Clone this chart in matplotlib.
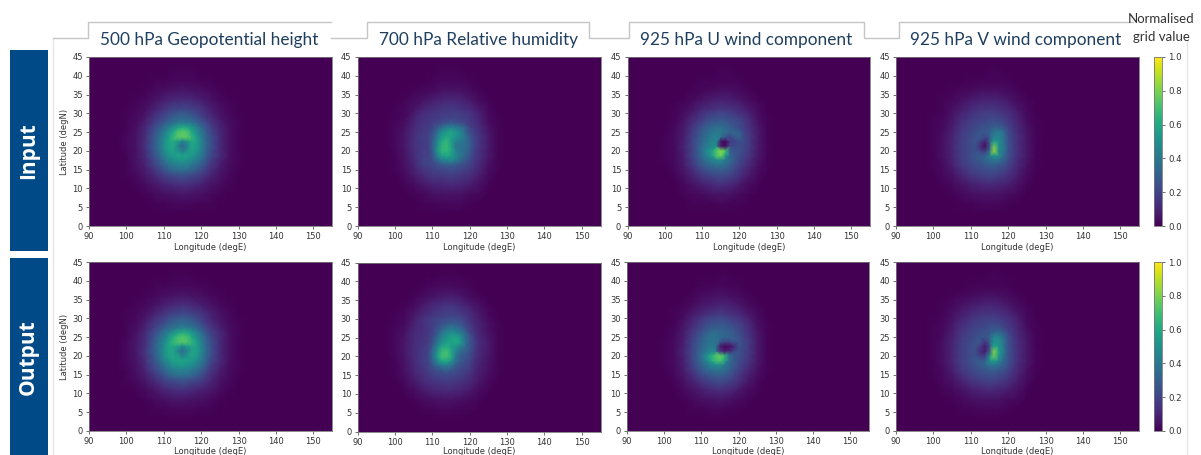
#!/usr/bin/env python3
# -*- coding: utf-8 -*-
import numpy as np
import matplotlib
matplotlib.use("Agg")
import matplotlib.pyplot as plt
from matplotlib.lines import Line2D
from matplotlib.patches import Rectangle

# coarse grid nodes, everything outside is 0
lons = [100, 102.5, 105, 107.5, 110, 112.5, 115, 117.5, 120, 122.5, 125, 127.5, 130]
lats = [41, 38.5, 36, 33.5, 31, 28.5, 26, 23.5, 21, 18.5, 16, 13.5, 11, 8.5, 6]
# finer nodes around the storm centre
core_lons = [107.5, 108.75, 110, 111.25, 112.5, 113.75, 115, 116.25, 117.5, 118.75, 120, 121.25, 122.5]
core_lats = [30, 28.75, 27.5, 26.25, 25, 23.75, 22.5, 21.25, 20, 18.75, 17.5, 16.25, 15]

titles = ["500 hPa Geopotential height", "700 hPa Relative humidity",
          "925 hPa U wind component", "925 hPa V wind component"]
row_names = ["Input", "Output"]
x_ticks = [90, 100, 110, 120, 130, 140, 150]
y_ticks = [0, 5, 10, 15, 20, 25, 30, 35, 40, 45]
cbar_ticks = [0.0, 0.2, 0.4, 0.6, 0.8, 1.0]

gph_in = [
    [.00, .00, .00, .00, .00, .01, .01, .01, .00, .00, .00, .00, .00],
    [.00, .00, .00, .01, .01, .02, .02, .02, .01, .01, .00, .00, .00],
    [.00, .00, .01, .02, .04, .05, .06, .05, .04, .02, .01, .00, .00],
    [.00, .01, .02, .05, .08, .11, .12, .11, .08, .05, .02, .01, .00],
    [.01, .02, .04, .09, .15, .20, .22, .20, .15, .09, .04, .02, .00],
    [.01, .03, .07, .15, .25, .34, .38, .34, .25, .15, .07, .03, .01],
    [.01, .04, .11, .22, .37, .54, .60, .54, .37, .22, .10, .04, .01],
    [.02, .05, .13, .27, .47, .70, .75, .68, .45, .26, .12, .04, .01],
    [.02, .05, .14, .28, .48, .55, .36, .55, .46, .26, .12, .04, .01],
    [.01, .05, .12, .25, .42, .52, .55, .50, .40, .24, .11, .04, .01],
    [.01, .04, .09, .18, .29, .37, .40, .36, .28, .17, .08, .03, .01],
    [.01, .02, .06, .11, .18, .23, .25, .22, .17, .10, .05, .02, .00],
    [.00, .01, .03, .06, .09, .12, .13, .12, .09, .05, .03, .01, .00],
    [.00, .00, .01, .03, .04, .05, .06, .05, .04, .02, .01, .00, .00],
    [.00, .00, .00, .01, .01, .02, .02, .02, .01, .01, .00, .00, .00],
]
gph_out = [
    [.00, .00, .00, .00, .00, .01, .01, .01, .00, .00, .00, .00, .00],
    [.00, .00, .00, .01, .01, .02, .02, .02, .01, .01, .00, .00, .00],
    [.00, .00, .01, .02, .04, .05, .06, .05, .04, .02, .01, .00, .00],
    [.00, .01, .02, .05, .08, .11, .13, .11, .08, .05, .02, .01, .00],
    [.01, .02, .05, .10, .16, .21, .23, .21, .16, .10, .05, .02, .00],
    [.01, .03, .08, .16, .26, .35, .39, .35, .26, .16, .07, .03, .01],
    [.01, .05, .12, .23, .38, .54, .60, .54, .38, .23, .11, .04, .01],
    [.02, .06, .14, .28, .47, .68, .72, .66, .46, .27, .12, .04, .01],
    [.02, .06, .15, .29, .49, .56, .38, .55, .47, .27, .12, .04, .01],
    [.02, .05, .13, .26, .43, .53, .56, .52, .41, .25, .11, .04, .01],
    [.01, .04, .10, .19, .30, .38, .41, .37, .29, .18, .08, .03, .01],
    [.01, .02, .06, .12, .19, .24, .26, .23, .18, .11, .05, .02, .00],
    [.00, .01, .03, .06, .10, .13, .14, .12, .09, .06, .03, .01, .00],
    [.00, .00, .01, .03, .04, .06, .06, .05, .04, .02, .01, .00, .00],
    [.00, .00, .00, .01, .01, .02, .02, .02, .01, .01, .00, .00, .00],
]
rh_in = [
    [.00, .00, .00, .00, .00, .01, .01, .01, .00, .00, .00, .00, .00],
    [.00, .00, .00, .00, .01, .02, .02, .02, .01, .00, .00, .00, .00],
    [.00, .00, .01, .02, .03, .05, .05, .05, .03, .01, .00, .00, .00],
    [.00, .01, .03, .05, .08, .10, .11, .10, .07, .03, .01, .00, .00],
    [.01, .02, .05, .10, .13, .16, .17, .15, .12, .07, .02, .00, .00],
    [.01, .03, .09, .14, .17, .21, .24, .22, .18, .11, .03, .01, .00],
    [.02, .05, .11, .17, .22, .36, .45, .42, .28, .14, .05, .01, .00],
    [.02, .06, .13, .18, .30, .52, .58, .48, .42, .20, .07, .01, .00],
    [.02, .06, .13, .16, .34, .62, .58, .30, .34, .20, .07, .01, .00],
    [.01, .05, .12, .20, .30, .50, .50, .38, .30, .17, .06, .01, .00],
    [.01, .04, .10, .17, .22, .26, .28, .24, .20, .12, .04, .01, .00],
    [.00, .02, .07, .12, .16, .17, .18, .16, .13, .08, .03, .00, .00],
    [.00, .01, .03, .06, .09, .10, .11, .10, .08, .04, .01, .00, .00],
    [.00, .00, .01, .02, .04, .05, .05, .05, .03, .02, .00, .00, .00],
    [.00, .00, .00, .01, .01, .02, .02, .02, .01, .00, .00, .00, .00],
]
rh_out = [
    [.00, .00, .00, .00, .00, .01, .01, .01, .00, .00, .00, .00, .00],
    [.00, .00, .00, .01, .02, .03, .03, .02, .01, .00, .00, .00, .00],
    [.00, .00, .01, .03, .05, .07, .08, .06, .03, .01, .00, .00, .00],
    [.00, .01, .03, .07, .11, .14, .15, .12, .08, .04, .01, .00, .00],
    [.01, .02, .06, .11, .15, .18, .20, .18, .13, .07, .02, .00, .00],
    [.01, .03, .09, .14, .18, .25, .30, .27, .20, .11, .04, .01, .00],
    [.02, .05, .11, .16, .24, .42, .48, .44, .30, .16, .05, .01, .00],
    [.02, .06, .12, .17, .30, .52, .56, .58, .36, .20, .07, .01, .00],
    [.02, .06, .12, .18, .38, .66, .52, .36, .28, .18, .06, .01, .00],
    [.01, .05, .11, .18, .32, .52, .46, .30, .22, .14, .05, .01, .00],
    [.01, .04, .10, .15, .20, .26, .26, .20, .16, .10, .04, .01, .00],
    [.00, .02, .07, .12, .15, .17, .17, .15, .11, .06, .02, .00, .00],
    [.00, .01, .03, .07, .10, .11, .11, .10, .07, .03, .01, .00, .00],
    [.00, .00, .01, .03, .04, .05, .05, .04, .03, .01, .00, .00, .00],
    [.00, .00, .00, .01, .01, .02, .02, .01, .01, .00, .00, .00, .00],
]
u_in = [
    [.00, .00, .00, .00, .00, .00, .01, .01, .00, .00, .00, .00, .00],
    [.00, .00, .00, .00, .01, .01, .01, .01, .01, .00, .00, .00, .00],
    [.00, .00, .00, .01, .02, .03, .04, .04, .03, .01, .00, .00, .00],
    [.00, .00, .01, .03, .05, .08, .09, .08, .06, .03, .01, .00, .00],
    [.00, .01, .03, .06, .11, .14, .16, .15, .12, .07, .03, .00, .00],
    [.00, .01, .05, .11, .18, .22, .25, .23, .18, .11, .04, .01, .00],
    [.00, .02, .07, .15, .25, .32, .33, .28, .23, .15, .06, .01, .00],
    [.01, .03, .08, .19, .31, .38, .10, .03, .25, .19, .07, .01, .00],
    [.01, .03, .09, .20, .36, .52, .30, .12, .28, .17, .07, .01, .00],
    [.01, .03, .08, .20, .37, .55, .72, .40, .30, .16, .06, .01, .00],
    [.00, .02, .07, .15, .26, .36, .38, .32, .22, .11, .04, .01, .00],
    [.00, .01, .04, .10, .16, .21, .23, .20, .14, .07, .02, .00, .00],
    [.00, .00, .02, .05, .08, .11, .13, .11, .07, .03, .01, .00, .00],
    [.00, .00, .01, .02, .03, .05, .05, .05, .03, .01, .00, .00, .00],
    [.00, .00, .00, .01, .01, .01, .02, .01, .01, .00, .00, .00, .00],
]
u_out = [
    [.00, .00, .00, .00, .00, .00, .01, .01, .00, .00, .00, .00, .00],
    [.00, .00, .00, .00, .01, .01, .02, .01, .01, .00, .00, .00, .00],
    [.00, .00, .00, .01, .03, .04, .05, .04, .03, .01, .00, .00, .00],
    [.00, .00, .01, .03, .06, .08, .10, .09, .06, .03, .01, .00, .00],
    [.00, .01, .03, .07, .11, .15, .17, .15, .12, .07, .03, .00, .00],
    [.00, .01, .05, .11, .17, .22, .24, .22, .17, .11, .04, .01, .00],
    [.00, .02, .07, .15, .24, .31, .30, .27, .22, .14, .06, .01, .00],
    [.01, .03, .08, .18, .30, .34, .12, .04, .22, .17, .07, .01, .00],
    [.01, .03, .09, .20, .35, .50, .34, .18, .27, .17, .07, .01, .00],
    [.01, .03, .08, .20, .37, .58, .70, .42, .28, .15, .06, .01, .00],
    [.00, .02, .07, .15, .27, .36, .38, .31, .21, .11, .04, .01, .00],
    [.00, .01, .04, .10, .16, .22, .24, .20, .14, .07, .02, .00, .00],
    [.00, .00, .02, .05, .08, .12, .13, .11, .07, .03, .01, .00, .00],
    [.00, .00, .01, .02, .04, .05, .06, .05, .03, .01, .00, .00, .00],
    [.00, .00, .00, .01, .01, .02, .02, .01, .01, .00, .00, .00, .00],
]
v_in = [
    [.00, .00, .00, .00, .00, .00, .01, .01, .00, .00, .00, .00, .00],
    [.00, .00, .00, .00, .01, .01, .01, .01, .01, .00, .00, .00, .00],
    [.00, .00, .01, .02, .03, .04, .04, .04, .03, .01, .00, .00, .00],
    [.00, .01, .02, .04, .07, .09, .10, .09, .06, .03, .01, .00, .00],
    [.00, .01, .04, .08, .12, .15, .16, .15, .11, .06, .02, .00, .00],
    [.01, .02, .06, .12, .17, .20, .22, .21, .17, .09, .03, .01, .00],
    [.01, .03, .08, .15, .21, .25, .30, .33, .24, .12, .05, .01, .00],
    [.01, .04, .10, .17, .23, .18, .30, .45, .36, .16, .06, .01, .00],
    [.01, .04, .10, .17, .24, .04, .38, .80, .42, .17, .06, .01, .00],
    [.01, .04, .10, .17, .25, .28, .38, .50, .34, .16, .06, .01, .00],
    [.01, .03, .08, .15, .21, .26, .30, .30, .23, .12, .04, .01, .00],
    [.00, .02, .05, .10, .15, .18, .20, .18, .14, .08, .03, .00, .00],
    [.00, .01, .02, .05, .08, .10, .11, .10, .08, .04, .01, .00, .00],
    [.00, .00, .01, .02, .04, .05, .05, .05, .03, .02, .00, .00, .00],
    [.00, .00, .00, .01, .01, .02, .02, .02, .01, .00, .00, .00, .00],
]
v_out = [
    [.00, .00, .00, .00, .00, .00, .01, .01, .00, .00, .00, .00, .00],
    [.00, .00, .00, .00, .01, .01, .01, .01, .01, .00, .00, .00, .00],
    [.00, .00, .01, .02, .03, .04, .05, .04, .03, .01, .00, .00, .00],
    [.00, .01, .02, .05, .07, .09, .10, .09, .06, .03, .01, .00, .00],
    [.00, .01, .04, .08, .12, .15, .16, .15, .11, .06, .02, .00, .00],
    [.01, .02, .06, .12, .17, .20, .22, .21, .16, .09, .03, .01, .00],
    [.01, .03, .08, .15, .21, .25, .30, .38, .24, .12, .05, .01, .00],
    [.01, .04, .10, .17, .23, .15, .30, .52, .34, .16, .06, .01, .00],
    [.01, .04, .10, .17, .24, .05, .42, .78, .40, .17, .06, .01, .00],
    [.01, .04, .10, .17, .25, .27, .42, .56, .33, .16, .06, .01, .00],
    [.01, .03, .08, .15, .21, .26, .30, .30, .23, .12, .04, .01, .00],
    [.00, .02, .05, .10, .15, .18, .20, .18, .14, .08, .03, .00, .00],
    [.00, .01, .02, .05, .08, .10, .11, .10, .08, .04, .01, .00, .00],
    [.00, .00, .01, .02, .04, .05, .05, .05, .03, .02, .00, .00, .00],
    [.00, .00, .00, .01, .01, .02, .02, .02, .01, .00, .00, .00, .00],
]

gph_in_core = [
    [.12, .15, .18, .22, .24, .27, .28, .27, .24, .21, .17, .13, .10],
    [.15, .18, .22, .26, .30, .32, .33, .32, .30, .26, .21, .17, .13],
    [.18, .23, .28, .33, .37, .40, .42, .40, .37, .33, .27, .21, .16],
    [.22, .28, .35, .42, .50, .58, .62, .60, .52, .43, .34, .26, .19],
    [.25, .32, .41, .50, .60, .72, .74, .72, .60, .50, .39, .30, .22],
    [.27, .35, .45, .55, .66, .73, .75, .74, .65, .54, .43, .32, .24],
    [.28, .37, .47, .57, .62, .55, .42, .52, .60, .56, .45, .33, .25],
    [.28, .37, .48, .57, .60, .46, .34, .44, .59, .55, .45, .33, .25],
    [.27, .36, .46, .55, .59, .52, .42, .50, .58, .53, .43, .32, .24],
    [.25, .33, .42, .50, .55, .57, .57, .56, .53, .48, .40, .30, .22],
    [.22, .29, .37, .44, .49, .52, .52, .51, .47, .42, .35, .26, .19],
    [.19, .25, .31, .37, .41, .44, .44, .43, .39, .35, .29, .22, .16],
    [.15, .20, .25, .30, .34, .36, .36, .35, .32, .28, .23, .18, .13],
]
gph_out_core = [
    [.13, .16, .19, .23, .25, .28, .29, .28, .25, .22, .18, .14, .10],
    [.16, .19, .23, .27, .31, .33, .34, .33, .31, .27, .22, .17, .13],
    [.19, .24, .29, .34, .38, .41, .43, .41, .38, .33, .28, .21, .16],
    [.23, .29, .36, .43, .51, .58, .62, .60, .52, .44, .35, .26, .19],
    [.26, .33, .42, .51, .61, .70, .72, .70, .60, .50, .40, .30, .22],
    [.28, .36, .46, .56, .66, .71, .73, .72, .65, .55, .44, .33, .24],
    [.29, .38, .48, .58, .60, .56, .46, .54, .59, .56, .46, .34, .25],
    [.29, .38, .49, .58, .58, .46, .36, .44, .58, .56, .46, .34, .25],
    [.28, .37, .47, .56, .60, .54, .44, .52, .58, .54, .44, .33, .24],
    [.26, .34, .43, .51, .56, .58, .58, .57, .54, .49, .41, .31, .22],
    [.23, .30, .38, .45, .50, .53, .54, .52, .48, .43, .36, .27, .19],
    [.20, .26, .32, .38, .42, .45, .45, .44, .40, .36, .30, .23, .16],
    [.16, .21, .26, .31, .35, .37, .37, .36, .33, .29, .24, .18, .13],
]
rh_in_core = [
    [.13, .14, .15, .16, .17, .17, .18, .18, .17, .16, .15, .12, .09],
    [.14, .15, .16, .17, .19, .20, .20, .20, .19, .18, .16, .13, .10],
    [.15, .16, .18, .20, .23, .25, .27, .26, .23, .20, .17, .14, .11],
    [.16, .17, .21, .28, .36, .42, .45, .42, .38, .30, .20, .16, .12],
    [.17, .18, .24, .35, .48, .55, .58, .52, .46, .34, .24, .18, .14],
    [.18, .18, .26, .40, .54, .60, .58, .52, .46, .38, .28, .20, .15],
    [.18, .19, .28, .44, .60, .66, .56, .46, .40, .36, .30, .20, .15],
    [.17, .18, .30, .48, .64, .68, .58, .40, .38, .36, .30, .20, .15],
    [.18, .18, .28, .48, .64, .66, .58, .44, .38, .34, .28, .19, .14],
    [.18, .18, .26, .42, .56, .60, .56, .48, .40, .34, .25, .18, .14],
    [.19, .20, .24, .32, .42, .46, .48, .42, .33, .28, .22, .17, .13],
    [.18, .19, .21, .24, .27, .29, .30, .28, .25, .22, .19, .15, .11],
    [.15, .16, .18, .20, .21, .22, .23, .22, .20, .18, .16, .13, .10],
]
rh_out_core = [
    [.14, .16, .18, .20, .21, .22, .24, .23, .21, .18, .14, .10, .08],
    [.14, .16, .18, .21, .24, .27, .30, .29, .26, .21, .16, .12, .09],
    [.14, .16, .19, .24, .30, .36, .40, .38, .33, .26, .19, .13, .09],
    [.14, .16, .20, .28, .38, .46, .50, .48, .42, .32, .22, .15, .10],
    [.15, .16, .22, .33, .44, .52, .56, .58, .52, .38, .26, .17, .11],
    [.15, .17, .24, .37, .50, .56, .58, .60, .54, .38, .27, .18, .12],
    [.16, .18, .28, .44, .58, .62, .56, .52, .42, .34, .27, .18, .12],
    [.17, .19, .32, .50, .66, .70, .60, .46, .34, .30, .24, .17, .11],
    [.17, .20, .33, .52, .68, .70, .60, .42, .30, .27, .22, .16, .11],
    [.17, .20, .30, .46, .58, .60, .50, .36, .28, .24, .20, .14, .10],
    [.16, .19, .25, .33, .40, .42, .38, .29, .24, .21, .18, .13, .09],
    [.15, .18, .21, .24, .27, .29, .27, .24, .21, .19, .16, .12, .08],
    [.13, .16, .18, .20, .21, .22, .21, .20, .18, .16, .13, .10, .07],
]
u_in_core = [
    [.08, .11, .14, .17, .19, .20, .21, .20, .18, .16, .14, .12, .09],
    [.11, .14, .17, .20, .23, .24, .25, .24, .22, .20, .18, .15, .11],
    [.13, .17, .21, .25, .28, .29, .30, .29, .26, .24, .22, .17, .13],
    [.16, .20, .26, .30, .34, .36, .36, .33, .30, .26, .22, .18, .14],
    [.18, .23, .29, .34, .39, .40, .40, .36, .32, .32, .30, .20, .16],
    [.19, .25, .31, .36, .42, .43, .38, .26, .22, .28, .31, .22, .17],
    [.20, .26, .33, .38, .44, .46, .06, .02, .18, .20, .24, .22, .17],
    [.20, .27, .35, .42, .48, .50, .08, .03, .22, .22, .24, .21, .17],
    [.20, .28, .37, .47, .56, .72, .82, .70, .30, .26, .24, .20, .16],
    [.20, .27, .35, .44, .52, .70, .78, .55, .33, .27, .23, .19, .15],
    [.18, .25, .31, .38, .43, .48, .48, .41, .33, .27, .22, .17, .13],
    [.16, .22, .27, .31, .35, .38, .38, .35, .30, .24, .19, .15, .11],
    [.13, .18, .22, .25, .28, .29, .30, .28, .25, .20, .16, .12, .09],
]
u_out_core = [
    [.09, .12, .15, .18, .20, .21, .22, .21, .19, .17, .15, .12, .09],
    [.11, .15, .18, .21, .24, .25, .26, .25, .23, .20, .18, .15, .11],
    [.13, .17, .21, .25, .28, .29, .30, .29, .27, .24, .21, .17, .13],
    [.16, .20, .25, .30, .34, .35, .33, .32, .30, .27, .23, .18, .14],
    [.18, .23, .28, .34, .38, .38, .36, .32, .31, .29, .25, .20, .16],
    [.19, .25, .30, .35, .39, .38, .28, .20, .20, .26, .26, .21, .17],
    [.20, .26, .32, .37, .41, .38, .08, .03, .04, .12, .25, .22, .17],
    [.20, .27, .34, .41, .46, .44, .16, .08, .10, .22, .25, .21, .17],
    [.20, .28, .37, .48, .62, .72, .76, .66, .36, .28, .24, .20, .16],
    [.20, .27, .35, .45, .58, .68, .72, .58, .34, .28, .23, .19, .15],
    [.18, .25, .31, .38, .44, .49, .48, .41, .33, .27, .22, .17, .13],
    [.16, .22, .27, .32, .35, .38, .38, .35, .30, .24, .19, .15, .11],
    [.13, .18, .22, .25, .28, .30, .30, .28, .25, .20, .16, .12, .09],
]
v_in_core = [
    [.10, .12, .14, .16, .17, .18, .18, .18, .17, .15, .13, .11, .08],
    [.12, .14, .16, .18, .19, .20, .21, .21, .20, .18, .15, .12, .09],
    [.14, .16, .18, .20, .21, .22, .24, .25, .24, .21, .17, .14, .10],
    [.15, .17, .20, .22, .24, .25, .27, .30, .30, .26, .20, .15, .11],
    [.17, .19, .21, .24, .26, .27, .30, .38, .42, .34, .23, .17, .12],
    [.17, .20, .22, .25, .27, .22, .28, .44, .46, .38, .25, .18, .13],
    [.18, .20, .23, .26, .20, .10, .28, .55, .48, .38, .26, .18, .13],
    [.18, .20, .23, .24, .14, .03, .26, .75, .48, .40, .26, .19, .13],
    [.18, .20, .23, .25, .22, .16, .40, .85, .48, .40, .26, .19, .13],
    [.18, .20, .24, .27, .28, .30, .42, .50, .48, .36, .25, .18, .13],
    [.17, .20, .23, .25, .28, .31, .36, .40, .38, .30, .23, .17, .12],
    [.16, .18, .20, .23, .25, .27, .29, .30, .28, .25, .20, .15, .11],
    [.13, .16, .18, .20, .22, .23, .24, .24, .22, .20, .17, .13, .09],
]
v_out_core = [
    [.10, .12, .14, .16, .17, .18, .18, .18, .17, .15, .13, .11, .08],
    [.12, .14, .16, .18, .19, .20, .21, .21, .20, .18, .15, .12, .09],
    [.14, .16, .18, .20, .21, .22, .24, .26, .25, .21, .17, .14, .10],
    [.15, .17, .20, .22, .24, .25, .28, .32, .33, .27, .21, .15, .11],
    [.17, .19, .21, .24, .26, .26, .30, .45, .46, .36, .24, .17, .12],
    [.17, .20, .22, .25, .25, .16, .28, .50, .50, .38, .25, .18, .13],
    [.18, .20, .23, .25, .18, .08, .24, .58, .52, .38, .26, .18, .13],
    [.18, .20, .23, .24, .14, .07, .28, .80, .55, .40, .26, .19, .13],
    [.18, .20, .23, .25, .20, .18, .50, .78, .52, .38, .26, .19, .13],
    [.18, .20, .24, .27, .28, .30, .50, .55, .46, .34, .25, .18, .13],
    [.17, .20, .23, .26, .29, .32, .37, .40, .36, .30, .23, .17, .12],
    [.16, .18, .20, .23, .25, .27, .29, .30, .28, .25, .20, .15, .11],
    [.13, .16, .18, .20, .22, .23, .24, .24, .22, .20, .17, .13, .09],
]
panels = [[gph_in, rh_in, u_in, v_in], [gph_out, rh_out, u_out, v_out]]
cores = [[gph_in_core, rh_in_core, u_in_core, v_in_core],
         [gph_out_core, rh_out_core, u_out_core, v_out_core]]

W, H = 1201, 455
TICK_FS = 6.0
GREY = "#c6c6c6"

fig = plt.figure(figsize=(W / 100, H / 100), dpi=100)


def px_axes(x0, y0, x1, y1):
    # pixel box, y measured from the top of the image
    return fig.add_axes([x0 / W, 1 - y1 / H, (x1 - x0) / W, (y1 - y0) / H])


def px_line(xs, ys, color=GREY, lw=1.0):
    fig.add_artist(Line2D([x / W for x in xs], [1 - y / H for y in ys], color=color, lw=lw))


def scatter_nodes(coarse, core):
    # coarse nodes outside the core box plus all core nodes, with a zero ring round the block
    ring_lon = [lons[0] - 2.5] + lons + [lons[-1] + 2.5]
    ring_lat = [lats[0] + 2.5] + lats + [lats[-1] - 2.5]
    gx, gy = np.meshgrid(ring_lon, ring_lat)
    gz = np.pad(np.array(coarse), 1)
    keep = ~((gx >= core_lons[0]) & (gx <= core_lons[-1]) & (gy >= core_lats[-1]) & (gy <= core_lats[0]))
    fx, fy = np.meshgrid(core_lons, core_lats)
    x = np.concatenate([gx[keep], fx.ravel()])
    y = np.concatenate([gy[keep], fy.ravel()])
    z = np.concatenate([gz[keep], np.array(core).ravel()])
    return x, y, z


col_x = [[(89, 332), (357.5, 600.5), (627.5, 870), (896, 1139)],
         [(89, 332), (357.5, 600.5), (627, 869), (896, 1139)]]
row_y = [[(57, 226)] * 4, [(262, 431), (262.5, 431.5), (262, 431), (262, 431)]]

cmap = plt.get_cmap("viridis")

for r in range(2):
    for c in range(4):
        x0, x1 = col_x[r][c]
        y0, y1 = row_y[r][c]
        ax = px_axes(x0, y0, x1, y1)
        ax.set_facecolor(cmap(0.0))
        x, y, z = scatter_nodes(panels[r][c], cores[r][c])
        im = ax.tripcolor(x, y, z, shading="gouraud", cmap=cmap, vmin=0, vmax=1)
        ax.set_xlim(90, 155)
        ax.set_ylim(0, 45)
        ax.set_xticks(x_ticks)
        ax.set_yticks(y_ticks)
        ax.tick_params(labelsize=TICK_FS, length=2.5, width=0.5, pad=2, colors="#333333")
        ax.set_xlabel("Longitude (degE)", fontsize=TICK_FS, color="#333333",
                      labelpad=1.5 if r == 0 else 0.3)
        if c == 0:
            ax.set_ylabel("Latitude (degN)", fontsize=TICK_FS, color="#333333", labelpad=2)
        for s in ax.spines.values():
            s.set_linewidth(0.6)
            s.set_color("#777777")

    cax = px_axes(1154, row_y[r][3][0], 1162, row_y[r][3][1])
    cb = fig.colorbar(im, cax=cax, ticks=cbar_ticks)
    cb.ax.tick_params(labelsize=TICK_FS + 0.2, length=2.5, width=0.5, pad=2, colors="#333333")
    cb.outline.set_linewidth(0.6)
    cb.outline.set_edgecolor("#777777")

# the tab outline behind the column titles
px_line([53, 53], [455, 38], color="#e6e6e6")
px_line([53, 88, 88, 331], [38, 38, 22, 22])
px_line([331, 367, 367, 589, 589, 629, 629, 864, 864, 899, 899, 1133],
        [38, 38, 22, 22, 38, 38, 22, 22, 38, 38, 22, 22])
px_line([1187, 1187], [40, 455], color="#e6e6e6")

title_x = [209.5, 478.5, 746, 1015.5]
for t, x in zip(titles, title_x):
    fig.text(x / W, 1 - 39.5 / H, t, ha="center", va="center", fontsize=12.4,
             family="Lato", color="#1f3f5f")

fig.text(1161 / W, 1 - 19 / H, "Normalised", ha="center", va="center", fontsize=9.5,
         family="Lato", color="#333333")
fig.text(1161 / W, 1 - 37 / H, "grid value", ha="center", va="center", fontsize=9.5,
         family="Lato", color="#333333")

for name, (y0, y1) in zip(row_names, [(50, 251), (258, 456)]):
    fig.add_artist(Rectangle((9.5 / W, 1 - y1 / H), 38.5 / W, (y1 - y0) / H,
                             transform=fig.transFigure, facecolor="#004b87", edgecolor="none"))
    fig.text(28.5 / W, 1 - (y0 + y1) / 2 / H, name, rotation=90, ha="center", va="center",
             fontsize=15, fontweight="bold", family="Open Sans", color="white")

fig.savefig("out.png", dpi=100)
